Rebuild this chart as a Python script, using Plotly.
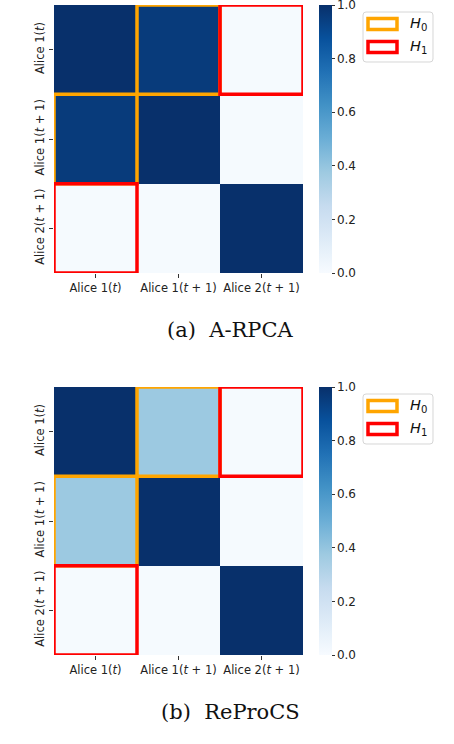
import plotly.graph_objects as go
import plotly.colors as pc

# similarity matrices
labels = ["Alice 1(<i>t</i>)", "Alice 1(<i>t</i> + 1)", "Alice 2(<i>t</i> + 1)"]
arpca = [[1.00, 0.96, 0.01],
         [0.96, 1.00, 0.01],
         [0.01, 0.01, 1.00]]
reprocs = [[1.00, 0.38, 0.01],
           [0.38, 1.00, 0.01],
           [0.01, 0.01, 1.00]]
h0_cells = [(0, 1), (1, 0)]   # (row, col)
h1_cells = [(0, 2), (2, 0)]
cbar_ticks = [0.0, 0.2, 0.4, 0.6, 0.8, 1.0]
captions = ["(a)  A-RPCA", "(b)  ReProCS"]

W, H = 454, 744
ORANGE, RED = "#ffa500", "#ff0000"


def px(x):
    return x / W


def py(y):
    return 1 - y / H


def rounded_box(x0, y0, x1, y1, r=3):
    # svg path for a box with rounded corners, given in pixels
    X = lambda v: f"{px(v):.5f}"
    Y = lambda v: f"{py(v):.5f}"
    return (f"M {X(x0 + r)},{Y(y0)} L {X(x1 - r)},{Y(y0)} "
            f"Q {X(x1)},{Y(y0)} {X(x1)},{Y(y0 + r)} L {X(x1)},{Y(y1 - r)} "
            f"Q {X(x1)},{Y(y1)} {X(x1 - r)},{Y(y1)} L {X(x0 + r)},{Y(y1)} "
            f"Q {X(x0)},{Y(y1)} {X(x0)},{Y(y1 - r)} L {X(x0)},{Y(y0 + r)} "
            f"Q {X(x0)},{Y(y0)} {X(x0 + r)},{Y(y0)} Z")


fig = go.Figure()

panels = [(arpca, 5, 273, ""), (reprocs, 387, 655, "2")]
shapes = []
annotations = []
tick_font = dict(family="DejaVu Sans", size=11.5, color="#222")

for k, (mat, top, bot, sfx) in enumerate(panels):
    fig.add_trace(go.Heatmap(
        z=mat, x=[0, 1, 2], y=[0, 1, 2],
        xaxis="x" + sfx, yaxis="y" + sfx,
        zmin=0, zmax=1, colorscale=pc.sequential.Blues,
        colorbar=dict(
            x=px(319), xanchor="left", xpad=0, ypad=0,
            y=py((top + bot) / 2), yanchor="middle",
            len=(bot - top) / H, lenmode="fraction", thickness=13,
            outlinewidth=0, tickvals=cbar_ticks,
            ticktext=[f"{t:.1f}" for t in cbar_ticks],
            ticks="outside", ticklen=3, tickcolor="#333",
            ticklabeloverflow="allow",
            tickfont=dict(family="DejaVu Sans", size=12, color="#222"),
        ),
    ))
    ax = dict(domain=[px(54), px(303)], range=[-0.5, 2.5],
              tickvals=[0, 1, 2], ticktext=labels, ticks="outside",
              ticklen=4, tickcolor="#333", showgrid=False, zeroline=False,
              tickfont=tick_font, anchor="y" + sfx)
    ay = dict(domain=[py(bot), py(top)], range=[2.5, -0.5],
              tickvals=[0, 1, 2], ticktext=labels, ticks="outside",
              ticklen=4, tickcolor="#333", showgrid=False, zeroline=False,
              tickangle=-90, tickfont=tick_font, anchor="x" + sfx)
    fig.update_layout(**{"xaxis" + sfx: ax, "yaxis" + sfx: ay})

    # hypothesis boxes on the cells
    for cells, col in [(h0_cells, ORANGE), (h1_cells, RED)]:
        for r, c in cells:
            shapes.append(dict(type="rect", xref="x" + sfx, yref="y" + sfx,
                               x0=c - 0.5, x1=c + 0.5, y0=r - 0.5, y1=r + 0.5,
                               line=dict(color=col, width=3.5)))

    # legend box
    off = 0 if k == 0 else 382
    shapes.append(dict(type="path", xref="paper", yref="paper",
                       path=rounded_box(363, 12 + off, 433, 62 + off),
                       line=dict(color="#d6d6d6", width=1), fillcolor="white"))
    for i, (col, name) in enumerate([(ORANGE, "<i>H</i><sub>0</sub>"),
                                     (RED, "<i>H</i><sub>1</sub>")]):
        yc = 24 + 23 * i + off
        shapes.append(dict(type="rect", xref="paper", yref="paper",
                           x0=px(368), x1=px(397), y0=py(yc - 5.5), y1=py(yc + 5.5),
                           line=dict(color=col, width=3.5), fillcolor="white"))
        annotations.append(dict(x=px(408), y=py(yc), xref="paper", yref="paper",
                                text=name, showarrow=False, xanchor="left",
                                yanchor="middle",
                                font=dict(family="DejaVu Sans", size=14.5, color="#111")))

    annotations.append(dict(x=px(230), y=py(bot + 57), xref="paper", yref="paper",
                            text=captions[k], showarrow=False, xanchor="center",
                            yanchor="middle",
                            font=dict(family="DejaVu Serif", size=21, color="#111")))

fig.update_layout(width=W, height=H,
                  margin=dict(l=0, r=0, t=0, b=0, autoexpand=False),
                  paper_bgcolor="white", plot_bgcolor="white",
                  shapes=shapes, annotations=annotations, showlegend=False)

# the page body has a default 8px margin, drop it so the figure sits at 0,0
fig.write_html("out.html", config={"displayModeBar": False},
               post_script="document.body.style.margin='0';")
